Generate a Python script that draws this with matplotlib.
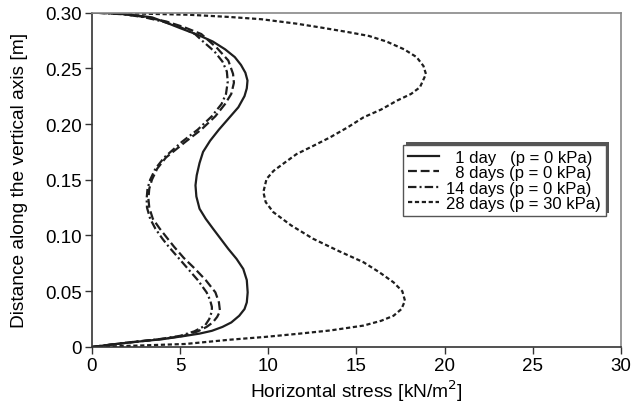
import matplotlib
matplotlib.use("Agg")
import matplotlib.pyplot as plt
from matplotlib.patches import Rectangle

plt.rcParams['font.family'] = ['Liberation Sans', 'DejaVu Sans']

# 1 day (p = 0 kPa)
y_1d = [0, 0.002, 0.0045, 0.007, 0.01, 0.012, 0.0145, 0.018, 0.022, 0.028, 0.034,
        0.04, 0.049, 0.06, 0.07, 0.079, 0.088, 0.097, 0.106, 0.115, 0.124, 0.135,
        0.145, 0.154, 0.165, 0.175, 0.185, 0.195, 0.205, 0.215, 0.225, 0.232,
        0.239, 0.246, 0.253, 0.26, 0.267, 0.274, 0.28, 0.286, 0.291, 0.2957,
        0.298, 0.2993, 0.30]
x_1d = [0, 1.0, 2.4, 4.0, 5.3, 6.1, 6.8, 7.4, 7.9, 8.35, 8.65,
        8.78, 8.83, 8.78, 8.58, 8.2, 7.73, 7.3, 6.87, 6.45, 6.1, 5.92,
        5.87, 5.94, 6.1, 6.3, 6.7, 7.2, 7.75, 8.3, 8.65, 8.78,
        8.82, 8.7, 8.45, 8.1, 7.55, 6.85, 6.0, 5.0, 4.2, 3.4,
        2.2, 1.2, 0]

# 8 days (p = 0 kPa)
y_8d = [0, 0.002, 0.0045, 0.007, 0.01, 0.014, 0.018, 0.022, 0.027, 0.032, 0.04,
        0.049, 0.06, 0.07, 0.08, 0.09, 0.097, 0.106, 0.115, 0.125, 0.133, 0.142,
        0.15, 0.16, 0.17, 0.184, 0.195, 0.207, 0.218, 0.227, 0.237, 0.245,
        0.257, 0.268, 0.2807, 0.287, 0.292, 0.296, 0.2985, 0.30]
x_8d = [0, 1.0, 2.4, 3.9, 5.2, 6.0, 6.5, 6.85, 7.1, 7.26, 7.2,
        7.0, 6.45, 5.85, 5.2, 4.65, 4.3, 3.85, 3.45, 3.25, 3.2, 3.25,
        3.4, 3.7, 4.2, 5.3, 6.2, 7.0, 7.55, 7.9, 8.05, 8.0,
        7.73, 7.1, 6.2, 5.2, 4.2, 3.0, 1.8, 0]

# 14 days (p = 0 kPa)
y_14d = [0, 0.002, 0.0045, 0.007, 0.01, 0.014, 0.019, 0.025, 0.032, 0.036, 0.042,
         0.049, 0.06, 0.07, 0.08, 0.09, 0.097, 0.106, 0.115, 0.125, 0.133, 0.142,
         0.15, 0.16, 0.17, 0.184, 0.195, 0.207, 0.218, 0.227, 0.238, 0.247,
         0.256, 0.265, 0.274, 0.2807, 0.287, 0.292, 0.296, 0.2985, 0.30]
x_14d = [0, 1.0, 2.3, 3.8, 5.0, 5.8, 6.4, 6.65, 6.8, 6.8, 6.7,
         6.5, 6.0, 5.45, 4.9, 4.35, 4.0, 3.6, 3.3, 3.12, 3.1, 3.15,
         3.3, 3.6, 4.1, 5.1, 6.0, 6.8, 7.35, 7.6, 7.7, 7.65,
         7.4, 6.95, 6.3, 5.84, 5.0, 4.0, 2.9, 1.7, 0]

# 28 days (p = 30 kPa)
y_28d = [0, 0.0012, 0.0027, 0.0065, 0.009, 0.0117, 0.0148, 0.0192, 0.0235, 0.028,
         0.034, 0.0415, 0.05, 0.058, 0.067, 0.076, 0.086, 0.097, 0.109, 0.121,
         0.13, 0.139, 0.1507, 0.158, 0.165, 0.173, 0.18, 0.188, 0.197, 0.206,
         0.213, 0.221, 0.227, 0.233, 0.2448, 0.252, 0.26, 0.267, 0.274, 0.279,
         0.2825, 0.2865, 0.29, 0.294, 0.296, 0.298, 0.299, 0.30]
x_28d = [0, 2.5, 5.3, 7.8, 9.8, 11.6, 13.5, 15.4, 16.4, 17.1,
         17.55, 17.75, 17.6, 17.1, 16.3, 15.4, 14.0, 12.55, 11.3, 10.28,
         9.85, 9.72, 9.9, 10.3, 10.9, 11.6, 12.5, 13.5, 14.5, 15.4,
         16.4, 17.3, 18.1, 18.6, 18.94, 18.8, 18.41, 17.7, 16.7, 15.7,
         14.5, 13.0, 11.6, 9.6, 7.8, 5.5, 2.8, 0]

labels = ["  1 day   (p = 0 kPa)", "  8 days (p = 0 kPa)",
          "14 days (p = 0 kPa)", "28 days (p = 30 kPa)"]
xticks = [0, 5, 10, 15, 20, 25, 30]
yticks = [0, 0.05, 0.10, 0.15, 0.20, 0.25, 0.30]
ytick_labels = ["0", "0.05", "0.10", "0.15", "0.20", "0.25", "0.30"]

fig = plt.figure(figsize=(6.33, 4.06), dpi=100)
ax = fig.add_axes([0.1453, 0.1429, 0.8357, 0.8238])

lc = '#1e1e1e'
lw = 1.6
ax.plot(x_1d, y_1d, color=lc, lw=lw, ls='-', label=labels[0])
ax.plot(x_8d, y_8d, color=lc, lw=lw, ls=(0, (4.0, 1.7)), label=labels[1])
ax.plot(x_14d, y_14d, color=lc, lw=lw, ls=(0, (3.8, 1.4, 0.9, 1.4)), label=labels[2])
ax.plot(x_28d, y_28d, color=lc, lw=lw, ls=(0, (1.9, 1.2)), label=labels[3])

ax.set_xlim(0, 30)
ax.set_ylim(0, 0.30)
ax.set_xticks(xticks)
ax.set_xticklabels([str(t) for t in xticks])
ax.set_yticks(yticks)
ax.set_yticklabels(ytick_labels)
ax.tick_params(labelsize=13.5, length=5, width=1, colors='#333333', labelcolor='black',
               pad=2.5)
ax.set_xlabel("Horizontal stress [kN/m$^2$]", fontsize=13.8, labelpad=2)
ax.set_ylabel("Distance along the vertical axis [m]", fontsize=13.8, labelpad=12)

for s in ['left', 'bottom']:
    ax.spines[s].set_color('#333333')
    ax.spines[s].set_linewidth(1.2)
for s in ['top', 'right']:
    ax.spines[s].set_color('#888888')
    ax.spines[s].set_linewidth(1.2)

leg = ax.legend(loc='upper left', bbox_to_anchor=(0.588, 0.603), fontsize=12,
                frameon=True, fancybox=False, framealpha=1, handlelength=1.9,
                handletextpad=0.42, borderpad=0.28, labelspacing=0.02,
                borderaxespad=0)
leg.get_frame().set_edgecolor('#555555')
leg.get_frame().set_facecolor('white')
leg.get_frame().set_linewidth(1.0)
leg.set_zorder(5)

# shadow offset up and to the right
fig.canvas.draw()
bb = leg.get_window_extent()
sh = Rectangle((bb.x0 + 3, bb.y0 + 3), bb.width, bb.height, transform=None,
               facecolor='#555555', edgecolor='none', zorder=4)
ax.add_artist(sh)

fig.savefig("out.png", dpi=100)
